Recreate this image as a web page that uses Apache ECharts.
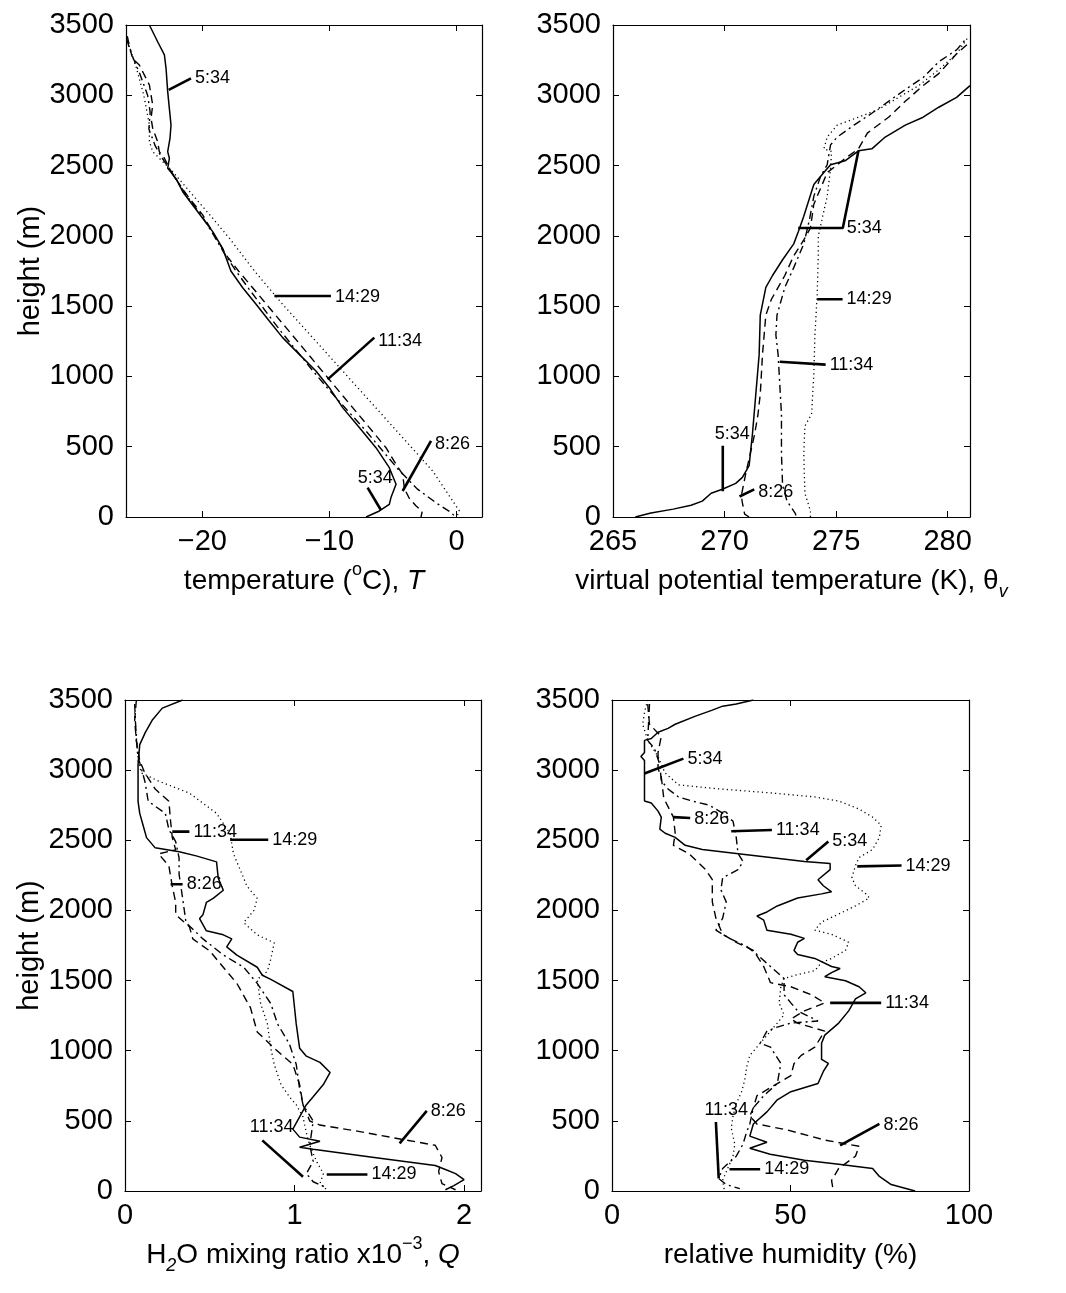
<!DOCTYPE html>
<html>
<head>
<meta charset="utf-8">
<script src="https://cdn.jsdelivr.net/npm/echarts@6/dist/echarts.min.js"></script>
<style>
html,body{margin:0;padding:0;background:#fff;}
#c{width:1066px;height:1293px;}
</style>
</head>
<body>
<div id="c"></div>
<script>
// ---------------- data (value, height in m) ----------------
const HEIGHT_TICKS = [0, 500, 1000, 1500, 2000, 2500, 3000, 3500];
const T_TICKS = [-20, -10, 0];
const TH_TICKS = [265, 270, 275, 280];
const Q_TICKS = [0, 1, 2];
const RH_TICKS = [0, 50, 100];

// Panel 1: temperature (deg C)
const T_0534 = [[-24.16,3500],[-23.51,3381],[-22.98,3287],[-22.85,3192],[-22.72,3026],[-22.59,2907],[-22.46,2789],[-22.54,2694],[-22.72,2599],[-22.59,2552],[-22.72,2480],[-22.07,2409],[-21.54,2314],[-20.76,2220],[-19.97,2125],[-19.18,2030],[-18.4,1911],[-17.75,1750],[-16.82,1631],[-15.77,1513],[-14.73,1394],[-13.68,1276],[-12.37,1157],[-11.06,1039],[-10.01,920],[-8.96,778],[-7.65,636],[-6.34,493],[-5.29,351],[-4.76,233],[-5.16,138],[-5.29,90],[-6.07,43],[-7.12,0]];
const T_0826 = [[-25.9,3420],[-25.5,3263],[-24.95,3215],[-24.16,3073],[-23.9,2931],[-24.03,2836],[-23.9,2765],[-23.51,2670],[-23.38,2599],[-22.98,2552],[-22.59,2480],[-21.94,2386],[-21.02,2267],[-19.97,2149],[-19.05,2006],[-18.13,1864],[-17.15,1750],[-16.04,1631],[-14.73,1489],[-13.41,1347],[-12.1,1205],[-10.79,1062],[-9.48,920],[-8.17,778],[-6.86,636],[-5.55,493],[-4.76,375],[-4.24,304],[-4.1,200],[-3.7,130],[-3.2,80],[-2.7,40],[-2.8,0]];
const T_1134 = [[-25.95,3400],[-25.6,3300],[-24.9,3150],[-24.3,3000],[-24.1,2880],[-24.2,2760],[-23.7,2640],[-23.2,2560],[-22.7,2490],[-22.0,2390],[-21.1,2270],[-20.1,2150],[-19.2,2020],[-18.3,1880],[-17.35,1750],[-16.35,1625],[-15.15,1480],[-13.9,1330],[-12.6,1185],[-11.3,1040],[-10.0,900],[-8.6,760],[-7.2,620],[-5.9,480],[-4.6,340],[-3.1,200],[-1.6,100],[-0.4,30],[-0.1,0]];
const T_1429 = [[-25.87,3381],[-25.2,3200],[-24.6,3000],[-24.16,2789],[-24.16,2670],[-23.9,2599],[-23.38,2552],[-22.33,2457],[-20.76,2291],[-19.18,2125],[-17.87,1983],[-15.9,1750],[-13.68,1513],[-11.32,1276],[-8.96,1039],[-6.6,802],[-4.24,565],[-1.88,327],[0.22,43],[0.0,0]];

// Panel 2: virtual potential temperature (K)
const TH_0534 = [[266.0,0],[266.7,28],[267.7,56],[268.5,84],[269.0,113],[269.4,169],[269.9,197],[270.5,239],[270.8,282],[271.1,366],[271.25,591],[271.4,873],[271.55,1155],[271.6,1436],[271.85,1633],[272.15,1718],[272.6,1830],[273.1,1943],[273.3,2028],[273.55,2140],[274.0,2365],[274.45,2450],[274.75,2506],[275.4,2534],[276.0,2605],[276.6,2619],[277.2,2703],[278.1,2788],[278.9,2844],[279.6,2915],[280.4,2985],[281.0,3069]];
const TH_0826 = [[271.1,0],[270.9,20],[270.8,100],[270.75,150],[270.95,310],[271.15,450],[271.35,591],[271.5,732],[271.6,873],[271.7,1155],[271.85,1436],[272.1,1549],[272.3,1605],[272.7,1718],[273.1,1858],[273.55,1971],[273.85,2056],[274.0,2225],[274.3,2337],[274.6,2450],[275.05,2506],[275.5,2562],[276.0,2619],[276.4,2731],[277.35,2844],[278.1,2957],[278.9,3069],[279.6,3154],[280.4,3295],[281.0,3379]];
const TH_1134 = [[273.2,10],[273.16,28],[272.8,113],[272.6,225],[272.55,450],[272.55,732],[272.45,1014],[272.4,1155],[272.3,1295],[272.35,1436],[272.7,1633],[273.1,1774],[273.55,1943],[273.8,2112],[274.0,2281],[274.3,2422],[274.6,2506],[274.75,2647],[275.05,2703],[275.8,2788],[276.6,2872],[277.35,2957],[278.1,3041],[278.9,3126],[279.6,3238],[280.4,3323],[280.85,3407]];
const TH_1429 = [[273.85,0],[273.85,42],[273.6,169],[273.55,450],[273.6,647],[273.9,732],[274.0,1014],[274.05,1295],[274.15,1577],[274.2,1858],[274.2,1999],[274.4,2140],[274.6,2281],[274.75,2478],[274.8,2600],[274.45,2619],[274.6,2703],[275.05,2788],[276.0,2844],[276.9,2900],[277.8,2985],[278.7,3069],[279.6,3182],[280.4,3295],[280.95,3421]];

// Panel 3: H2O mixing ratio (x1e-3)
const Q_0534 = [[0.34,3500],[0.22,3442],[0.16,3355],[0.12,3269],[0.087,3182],[0.077,3038],[0.077,2778],[0.087,2692],[0.107,2605],[0.127,2519],[0.178,2446],[0.32,2418],[0.42,2389],[0.54,2346],[0.55,2230],[0.58,2144],[0.52,2086],[0.48,2057],[0.46,1970],[0.44,1942],[0.48,1855],[0.58,1826],[0.63,1797],[0.60,1740],[0.66,1682],[0.78,1595],[0.81,1538],[0.86,1509],[0.99,1422],[1.01,1191],[1.03,1018],[1.07,961],[1.15,917],[1.21,845],[1.17,759],[1.11,672],[1.07,615],[1.03,528],[0.99,441],[1.03,384],[1.15,355],[1.03,312],[1.11,297],[1.47,239],[1.83,182],[1.89,153],[1.95,124],[2.0,81],[1.94,38],[1.89,9]];
const Q_0826 = [[0.067,3500],[0.057,3355],[0.067,3211],[0.087,3067],[0.117,2980],[0.178,2865],[0.259,2778],[0.269,2634],[0.279,2519],[0.299,2432],[0.198,2403],[0.259,2317],[0.279,2172],[0.299,2057],[0.299,1970],[0.38,1884],[0.40,1797],[0.50,1711],[0.58,1595],[0.66,1480],[0.74,1307],[0.78,1134],[0.88,1018],[0.99,903],[1.03,759],[1.05,615],[1.09,499],[1.15,470],[1.37,427],[1.63,369],[1.83,326],[1.87,239],[1.85,138],[1.87,52],[1.95,9]];
const Q_1134 = [[0.057,3471],[0.067,3211],[0.077,3096],[0.097,3009],[0.117,2922],[0.137,2778],[0.238,2692],[0.259,2576],[0.299,2490],[0.319,2374],[0.319,2259],[0.34,2086],[0.36,1913],[0.46,1797],[0.58,1682],[0.70,1595],[0.78,1480],[0.86,1336],[0.90,1191],[0.97,1047],[1.01,903],[1.03,730],[1.05,615],[1.11,499],[1.09,326],[1.11,211],[1.07,124],[1.11,66],[1.19,23]];
const Q_1429 = [[0.057,3413],[0.077,3067],[0.097,2980],[0.198,2922],[0.38,2836],[0.54,2692],[0.62,2547],[0.64,2403],[0.68,2288],[0.72,2172],[0.78,2086],[0.76,1999],[0.70,1913],[0.78,1826],[0.88,1769],[0.86,1653],[0.84,1567],[0.78,1509],[0.80,1336],[0.84,1191],[0.86,1018],[0.88,903],[0.92,759],[0.97,672],[1.01,615],[1.05,528],[1.07,413],[1.09,326],[1.13,211],[1.17,124],[1.15,52],[1.19,9]];

// Panel 4: relative humidity (%)
const RH_0534 = [[39.6,3500],[34.8,3471],[31.0,3456],[28.1,3428],[23.4,3385],[17.7,3327],[15.7,3298],[12.9,3270],[11.0,3226],[9.1,3212],[9.1,3126],[8.1,3097],[9.1,3068],[9.1,2780],[11.0,2766],[12.9,2708],[13.8,2665],[13.4,2579],[14.9,2550],[17.7,2521],[20.5,2464],[25.3,2435],[34.8,2406],[44.4,2377],[53.9,2348],[61.1,2334],[61.1,2291],[57.7,2219],[59.2,2176],[61.5,2133],[58.7,2118],[52.0,2089],[46.3,2032],[43.4,1989],[40.6,1960],[42.5,1931],[43.4,1859],[50.1,1830],[53.9,1801],[52.0,1773],[51.0,1715],[52.0,1686],[56.8,1658],[61.5,1600],[63.9,1586],[61.5,1557],[59.6,1528],[65.4,1499],[69.2,1456],[71.1,1413],[68.2,1370],[66.3,1284],[63.5,1197],[59.6,1111],[58.7,1053],[58.7,938],[60.6,909],[59.2,852],[57.7,766],[50.1,708],[46.3,650],[43.4,564],[39.6,478],[38.6,391],[43.4,348],[38.6,305],[44.3,262],[53.9,219],[63.5,190],[73.0,161],[74.9,104],[78.2,46],[84.9,0]];
const RH_0826 = [[10.0,3471],[10.5,3327],[13.8,3240],[12.9,3126],[12.9,3011],[13.8,2953],[14.5,2800],[16.5,2700],[17.2,2665],[17.7,2550],[17.2,2464],[21.5,2406],[26.2,2291],[28.1,2219],[28.1,2061],[29.1,1945],[31.0,1830],[34.8,1773],[39.6,1715],[42.5,1600],[44.4,1485],[50.1,1456],[55.8,1399],[59.6,1341],[53.9,1284],[50.1,1226],[52.0,1197],[55.8,1168],[59.6,1140],[56.8,1025],[53.0,967],[51.0,909],[50.1,823],[44.4,737],[40.6,679],[39.6,593],[38.6,535],[40.6,478],[49.1,435],[59.6,363],[69.2,319],[68.2,248],[63.5,161],[61.5,75],[62.0,0]];
const RH_1134 = [[10.5,3471],[10.0,3212],[11.9,3154],[13.4,3039],[13.8,2924],[15.7,2866],[18.6,2809],[22.4,2780],[27.2,2751],[31.0,2694],[33.9,2636],[34.8,2521],[35.3,2406],[36.7,2348],[35.3,2291],[31.0,2233],[30.5,2147],[32.0,2061],[31.0,1945],[29.1,1859],[32.9,1801],[37.7,1744],[40.6,1686],[44.4,1600],[48.2,1514],[48.2,1399],[50.1,1341],[52.0,1284],[57.7,1212],[50.1,1197],[46.3,1168],[43.4,1140],[41.5,1053],[44.4,1025],[47.3,909],[46.3,766],[42.5,679],[39.6,593],[38.6,478],[37.7,420],[36.7,334],[34.8,248],[31.0,161],[29.9,89],[32.0,46],[35.8,17]];
const RH_1429 = [[10.0,3500],[9.1,3413],[8.6,3327],[10.0,3212],[12.9,3097],[14.8,2982],[18.6,2895],[30.1,2866],[44.4,2838],[56.8,2809],[63.5,2780],[69.2,2723],[73.0,2665],[75.4,2607],[74.9,2521],[73.0,2435],[69.2,2377],[68.2,2320],[67.2,2233],[68.2,2176],[71.1,2118],[72.1,2089],[68.2,2032],[63.5,1974],[58.7,1917],[56.8,1859],[61.5,1830],[66.3,1773],[65.4,1715],[61.5,1658],[58.7,1629],[56.8,1571],[52.0,1543],[48.2,1514],[47.3,1456],[46.8,1341],[48.2,1255],[46.3,1197],[44.4,1140],[41.5,1053],[38.6,967],[37.7,881],[37.2,794],[36.3,708],[34.8,622],[33.9,535],[33.4,449],[34.4,334],[33.9,248],[32.4,161],[31.0,75],[31.5,0]];

// leader lines with their sounding-time labels (data coordinates)
const ANN_T = [
  {line:[[-22.64,3038],[-20.89,3121]], text:'5:34', at:[-20.89,3121], pos:'right'},
  {line:[[-14.33,1572],[-9.88,1572]], text:'14:29', at:[-9.88,1565], pos:'right'},
  {line:[[-10.14,979],[-6.47,1276]], text:'11:34', at:[-6.47,1255], pos:'right'},
  {line:[[-4.24,185],[-2.01,541]], text:'8:26', at:[-2.01,522], pos:'right'},
  {line:[[-5.94,48],[-7.0,209]], text:'5:34', at:[-6.39,280], pos:'inside'}
];
const ANN_TH = [
  {line:[[273.3,2056],[275.3,2056],[276.0,2605]], text:'5:34', at:[275.3,2056], pos:'right'},
  {line:[[274.15,1549],[275.29,1549]], text:'14:29', at:[275.29,1549], pos:'right'},
  {line:[[272.47,1104],[274.53,1084]], text:'11:34', at:[274.53,1084], pos:'right'},
  {line:[[269.92,183],[269.92,507]], text:'5:34', at:[270.34,591], pos:'inside'},
  {line:[[270.67,146],[271.33,197]], text:'8:26', at:[271.33,180], pos:'right'}
];
const ANN_Q = [
  {line:[[0.279,2562],[0.38,2562]], text:'11:34', at:[0.38,2562], pos:'right'},
  {line:[[0.62,2504],[0.845,2504]], text:'14:29', at:[0.845,2504], pos:'right'},
  {line:[[0.269,2187],[0.34,2187]], text:'8:26', at:[0.34,2187], pos:'right'},
  {line:[[1.62,340],[1.78,571]], text:'8:26', at:[1.78,571], pos:'right'},
  {line:[[0.81,361],[1.05,101]], text:'11:34', at:[0.865,456], pos:'inside'},
  {line:[[1.19,118],[1.43,118]], text:'14:29', at:[1.43,118], pos:'right'}
];
const ANN_RH = [
  {line:[[9.1,2976],[20.0,3082]], text:'5:34', at:[20.0,3082], pos:'right'},
  {line:[[17.2,2665],[21.9,2659]], text:'8:26', at:[21.9,2655], pos:'right'},
  {line:[[33.4,2564],[44.8,2573]], text:'11:34', at:[44.8,2573], pos:'right'},
  {line:[[54.4,2357],[60.6,2492]], text:'5:34', at:[60.6,2492], pos:'right'},
  {line:[[68.7,2314],[81.1,2320]], text:'14:29', at:[81.1,2320], pos:'right'},
  {line:[[61.1,1341],[75.4,1341]], text:'11:34', at:[75.4,1341], pos:'right'},
  {line:[[63.9,325],[74.9,478]], text:'8:26', at:[74.9,470], pos:'right'},
  {line:[[29.1,492],[29.9,89]], text:'11:34', at:[32.0,578], pos:'inside'},
  {line:[[32.9,155],[41.5,155]], text:'14:29', at:[41.5,155], pos:'right'}
];

// ---------------- chart ----------------
const FONT = "'Liberation Sans', Arial, Helvetica, sans-serif";
const TICK_FS = 29, NAME_FS = 28, ANN_FS = 18;

const grids = [
  {left:126, top:25, width:356, height:492},
  {left:613, top:25, width:357, height:492},
  {left:125, top:700, width:356, height:491},
  {left:612, top:700, width:357, height:491}
];
const panels = [
  {min:-26, max:2, ticks:T_TICKS, series:[T_0534,T_0826,T_1134,T_1429], ann:ANN_T,
   name:'{a|temperature (}{sup|o}{a|C), }{i|T}', yname:true},
  {min:265, max:281, ticks:TH_TICKS, series:[TH_0534,TH_0826,TH_1134,TH_1429], ann:ANN_TH,
   name:'{a|virtual potential temperature (K), θ}{sub|v}', yname:false},
  {min:0, max:2.1, ticks:Q_TICKS, series:[Q_0534,Q_0826,Q_1134,Q_1429], ann:ANN_Q,
   name:'{a|H}{sub|2}{a|O mixing ratio x10}{sup|−3}{a|, }{i|Q}', yname:true},
  {min:0, max:100, ticks:RH_TICKS, series:[RH_0534,RH_0826,RH_1134,RH_1429], ann:ANN_RH,
   name:'{a|relative humidity (%)}', yname:false}
];
const STYLES = [
  {type:'solid', width:1.5},
  {type:[8,5], width:1.4},
  {type:[8,4,2,4], width:1.4},
  {type:[1.2,3.2], width:1.3}
];

const rich = {
  a:{fontSize:NAME_FS, fontFamily:FONT, color:'#000', lineHeight:40},
  i:{fontSize:NAME_FS, fontFamily:FONT, color:'#000', fontStyle:'italic', lineHeight:40},
  sup:{fontSize:18, fontFamily:FONT, color:'#000', verticalAlign:'top', lineHeight:40},
  sub:{fontSize:18, fontFamily:FONT, color:'#000', verticalAlign:'bottom', lineHeight:40, fontStyle:'italic'}
};
const fmt = v => String(v).replace('-', '\u2212');
const fmtY = v => String(v);

const xAxis = [], yAxis = [], series = [];
panels.forEach((p, i) => {
  const tickStyle = {show:true, inside:true, length:6, lineStyle:{color:'#000', width:1}, customValues:p.ticks};
  xAxis.push({
    type:'value', gridIndex:i, min:p.min, max:p.max, position:'bottom',
    axisLine:{show:true, onZero:false, lineStyle:{color:'#000', width:1.2}},
    axisTick:tickStyle,
    axisLabel:{show:true, customValues:p.ticks, formatter:fmt, fontSize:TICK_FS, fontFamily:FONT, color:'#000', margin:10},
    splitLine:{show:false},
    name:p.name, nameLocation:'middle', nameGap:44,
    nameTextStyle:{rich:rich}
  });
  xAxis.push({
    type:'value', gridIndex:i, min:p.min, max:p.max, position:'top',
    axisLine:{show:true, onZero:false, lineStyle:{color:'#000', width:1.2}},
    axisTick:tickStyle, axisLabel:{show:false}, splitLine:{show:false}
  });
  const yTick = {show:true, inside:true, length:6, lineStyle:{color:'#000', width:1}};
  yAxis.push({
    type:'value', gridIndex:i, min:0, max:3500, interval:500, position:'left',
    axisLine:{show:true, onZero:false, lineStyle:{color:'#000', width:1.2}},
    axisTick:yTick,
    axisLabel:{show:true, formatter:fmtY, fontSize:TICK_FS, fontFamily:FONT, color:'#000', margin:12},
    splitLine:{show:false},
    name:p.yname ? 'height (m)' : '', nameLocation:'middle', nameGap:73,
    nameTextStyle:{fontSize:NAME_FS+1, fontFamily:FONT, color:'#000'}
  });
  yAxis.push({
    type:'value', gridIndex:i, min:0, max:3500, interval:500, position:'right',
    axisLine:{show:true, onZero:false, lineStyle:{color:'#000', width:1.2}},
    axisTick:yTick, axisLabel:{show:false}, splitLine:{show:false}
  });
  p.series.forEach((d, k) => {
    series.push({
      type:'line', xAxisIndex:2*i, yAxisIndex:2*i, data:d, symbol:'none',
      lineStyle:{color:'#000', type:STYLES[k].type, width:STYLES[k].width},
      silent:true, animation:false, z:2
    });
  });
  p.ann.forEach(a => {
    series.push({
      type:'line', xAxisIndex:2*i, yAxisIndex:2*i, data:a.line, symbol:'none',
      lineStyle:{color:'#000', width:2.6, type:'solid'}, silent:true, animation:false, z:3
    });
  });
  series.push({
    type:'scatter', xAxisIndex:2*i, yAxisIndex:2*i, symbolSize:0, silent:true, animation:false, z:4,
    itemStyle:{color:'#000', opacity:1},
    data:p.ann.map(a => ({value:a.at, name:a.text, label:{position:a.pos}})),
    label:{show:true, formatter:'{b}', fontSize:ANN_FS, fontFamily:FONT, color:'#000', opacity:1, distance:4}
  });
});

const chart = echarts.init(document.getElementById('c'), null, {renderer:'canvas'});
chart.setOption({
  backgroundColor:'#fff', animation:false, textStyle:{color:'#000'},
  grid:grids, xAxis:xAxis, yAxis:yAxis, series:series
});
</script>
</body>
</html>
